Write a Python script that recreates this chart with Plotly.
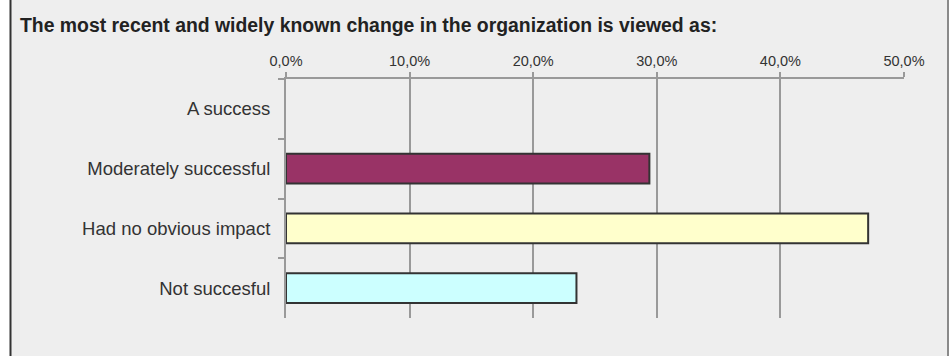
import plotly.graph_objects as go

# Survey responses (share of respondents, %)
categories = ["A success", "Moderately successful", "Had no obvious impact", "Not succesful"]
shares = [0.0, 29.4, 47.1, 23.5]
bar_colors = ["#993366", "#993366", "#FFFFCC", "#CCFFFF"]
tick_values = [0, 10, 20, 30, 40, 50]
tick_labels = ["0,0%", "10,0%", "20,0%", "30,0%", "40,0%", "50,0%"]

W, H = 952, 356
L, R, T, B = 286, 48, 79, 38
plot_w = W - L - R
FONT = "Liberation Sans, Arial, Helvetica, sans-serif"


def px_to_paper_x(px):
    return (px - L) / plot_w


# empty categories get no outline
outline_widths = [2 if v > 0 else 0 for v in shares]

fig = go.Figure(
    go.Bar(
        x=shares,
        y=categories,
        orientation="h",
        width=0.5,
        marker=dict(color=bar_colors, line=dict(color="#333333", width=outline_widths)),
        hoverinfo="skip",
    )
)

# panel background with left/right frame lines
fig.add_shape(type="rect", xref="paper", yref="paper",
              x0=px_to_paper_x(0), x1=px_to_paper_x(10), y0=-1, y1=2,
              fillcolor="white", line_width=0, layer="below")
fig.add_shape(type="rect", xref="paper", yref="paper",
              x0=px_to_paper_x(949), x1=px_to_paper_x(960), y0=-1, y1=2,
              fillcolor="white", line_width=0, layer="below")
fig.add_shape(type="line", xref="paper", yref="paper",
              x0=px_to_paper_x(10.5), x1=px_to_paper_x(10.5), y0=-1, y1=2,
              line=dict(color="#333333", width=2), layer="below")
fig.add_shape(type="line", xref="paper", yref="paper",
              x0=px_to_paper_x(948), x1=px_to_paper_x(948), y0=-1, y1=2,
              line=dict(color="#8a8a8a", width=2), layer="below")

fig.update_layout(
    width=W, height=H,
    margin=dict(l=L, r=R, t=T, b=B, pad=0),
    paper_bgcolor="#eeeeee",
    plot_bgcolor="#eeeeee",
    showlegend=False,
    font=dict(family=FONT, color="#333333"),
    title=dict(
        text="<b>The most recent and widely known change in the organization is viewed as:</b>",
        x=20 / W, xref="container", xanchor="left",
        y=1 - 25.5 / H, yref="container", yanchor="middle",
        font=dict(size=19.4, color="#222222", family=FONT),
    ),
    xaxis=dict(
        side="top",
        range=[0, 50],
        tickvals=tick_values,
        ticktext=tick_labels,
        showgrid=True,
        gridcolor="#999999",
        gridwidth=2,
        showline=True,
        linecolor="#999999",
        linewidth=2,
        ticks="outside",
        ticklen=5,
        tickwidth=2,
        tickcolor="#999999",
        tickfont=dict(size=14.5, color="#333333", family=FONT),
        zeroline=False,
        fixedrange=True,
    ),
    yaxis=dict(
        categoryorder="array",
        categoryarray=categories,
        autorange="reversed",
        showline=True,
        linecolor="#999999",
        linewidth=2,
        ticks="outside",
        tickson="boundaries",
        ticklen=6,
        tickwidth=2,
        tickcolor="#999999",
        tickfont=dict(size=18.5, color="#333333", family=FONT),
        ticklabelstandoff=10,
        showgrid=False,
        fixedrange=True,
    ),
)

fig.write_html("out.html")
